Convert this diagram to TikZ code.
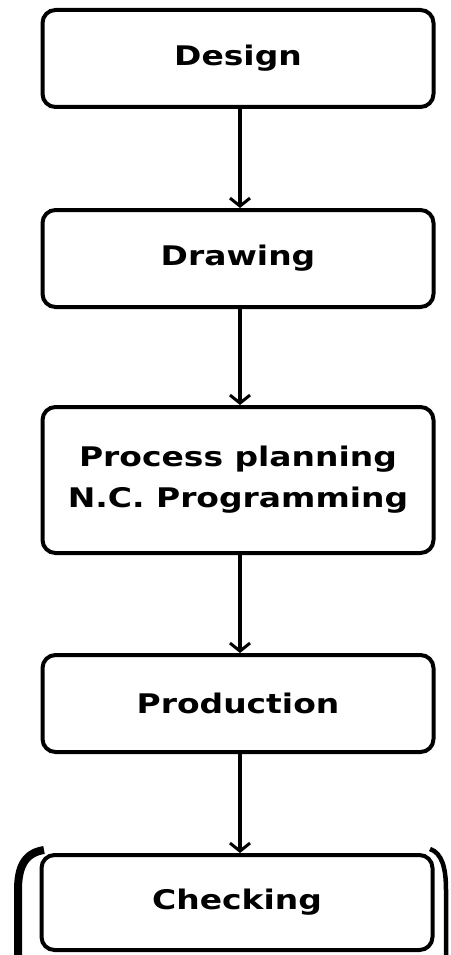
\documentclass[tikz,border=0pt]{standalone}
\usepackage{fontspec}
\setmainfont{DejaVu Sans}[BoldFont={DejaVu Sans Bold}]
\newfontfamily\boxfont{DejaVu Sans Bold}[FakeStretch=1.22]
\usetikzlibrary{arrows.meta}
\begin{document}
\begin{tikzpicture}[x=1pt,y=-1pt,
  stepbox/.style={draw=black,line width=4pt,rounded corners=13pt,
    minimum width=391pt,inner sep=0pt,
    font=\boxfont\fontsize{27}{41}\selectfont,align=center},
  flow/.style={line width=3.5pt,-{Straight Barb[length=8pt,width=20pt,line width=3pt]}},
  bracket/.style={line cap=butt}]
\useasboundingbox (0,0) rectangle (450,955);
\begin{scope}
\clip (0,0) rectangle (450,955);
\node[stepbox,minimum height=97pt] (design) at (238,58.5) {Design};
\node[stepbox,minimum height=97pt] (drawing) at (238,258.5) {Drawing};
\node[stepbox,minimum height=146pt] (process) at (238,480) {Process planning\\N.C. Programming};
\node[stepbox,minimum height=97pt] (production) at (238,703.5) {Production};
\node[stepbox,minimum height=95pt] (checking) at (237,902.5) {Checking};
\draw[flow] (design.south -| 240,0) -- (drawing.north -| 240,0);
\draw[flow] (drawing.south -| 240,0) -- (process.north -| 240,0);
\draw[flow] (process.south -| 240,0) -- (production.north -| 240,0);
\draw[flow] (production.south -| 240,0) -- (checking.north -| 240,0);
\draw[bracket,line width=8pt] (44,850) .. controls (24,853) and (18,868) .. (18,890) -- (18,965);
\draw[bracket,line width=4.5pt] (430,849) .. controls (442,853) and (446,868) .. (446,890) -- (446,965);
\end{scope}
\end{tikzpicture}
\end{document}
